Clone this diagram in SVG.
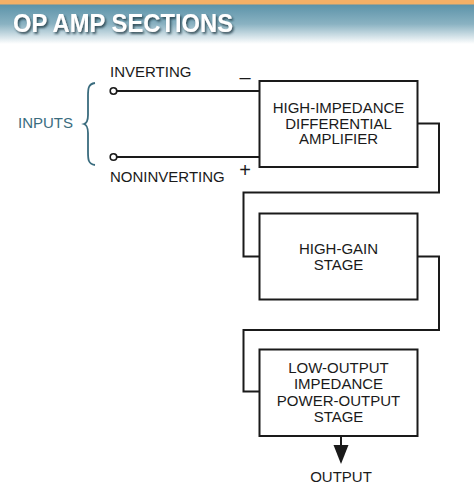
<svg xmlns="http://www.w3.org/2000/svg" width="474" height="486" viewBox="0 0 474 486">
<defs>
<linearGradient id="hdr" x1="0" y1="0" x2="0" y2="1">
<stop offset="0" stop-color="#5a92a8"/>
<stop offset="0.5" stop-color="#8ab2c2"/>
<stop offset="1" stop-color="#ffffff"/>
</linearGradient>
<filter id="sh" x="-10%" y="-30%" width="120%" height="160%">
<feDropShadow dx="1.5" dy="2" stdDeviation="1.2" flood-color="#1d3440" flood-opacity="0.8"/>
</filter>
</defs>
<style>
.lbl{font-family:"Liberation Sans",Arial,sans-serif;font-size:15px;fill:#1a1a1a}
.ctr{text-anchor:middle}
.box{fill:#fff;stroke:#1a1a1a;stroke-width:2}
.wire{fill:none;stroke:#1a1a1a;stroke-width:2}
.sign{font-family:"Liberation Sans",Arial,sans-serif;font-size:20px;fill:#1a1a1a;text-anchor:middle}
</style>
<rect x="0" y="0" width="474" height="486" fill="#fff"/>
<g id="header">
<rect x="0" y="4" width="474" height="40" fill="url(#hdr)"/>
<rect x="0" y="0" width="474" height="4.5" fill="#f3b067"/>
<text x="13" y="32" font-family="'Liberation Sans',Arial,sans-serif" font-weight="bold" font-size="26" fill="#fff" textLength="220" lengthAdjust="spacingAndGlyphs" filter="url(#sh)">OP AMP SECTIONS</text>
</g>
<g id="inputs">
<text class="lbl" x="18" y="128" style="fill:#3a6c7e">INPUTS</text>
<path d="M95,83 C88,84 88,89 88,96 L88,115 C88,120 87,123 84,124 C87,125 88,128 88,133 L88,152 C88,159 88,164 95,165" fill="none" stroke="#3a6c7e" stroke-width="1.8"/>
<text class="lbl" x="110" y="77">INVERTING</text>
<text class="lbl" x="110" y="182">NONINVERTING</text>
<circle cx="113.5" cy="91" r="3.3" fill="#fff" stroke="#1a1a1a" stroke-width="1.6"/>
<circle cx="113.5" cy="157" r="3.3" fill="#fff" stroke="#1a1a1a" stroke-width="1.6"/>
<text class="sign" x="245" y="84">–</text>
<text class="sign" x="245" y="177">+</text>
</g>
<g id="connectors">
<path class="wire" d="M117,91 H260"/>
<path class="wire" d="M117,157 H260"/>
<path class="wire" d="M418,123.5 H439 V192.5 H243.5 V256.5 H260"/>
<path class="wire" d="M418,256.5 H439 V330 H243.5 V391.5 H260"/>
<path class="wire" d="M341,436 V446"/>
<polygon points="333.5,445 348.5,445 341,464" fill="#1a1a1a"/>
</g>
<g id="diff-amp">
<rect class="box" x="259.5" y="81" width="158" height="86"/>
<text class="lbl ctr" x="338.5" y="113">HIGH-IMPEDANCE</text>
<text class="lbl ctr" x="338.5" y="128.5">DIFFERENTIAL</text>
<text class="lbl ctr" x="338.5" y="144">AMPLIFIER</text>
</g>
<g id="gain-stage">
<rect class="box" x="259.5" y="213.5" width="158" height="86"/>
<text class="lbl ctr" x="338.5" y="253.5">HIGH-GAIN</text>
<text class="lbl ctr" x="338.5" y="269.5">STAGE</text>
</g>
<g id="output-stage">
<rect class="box" x="259.5" y="349.5" width="158" height="86.5"/>
<text class="lbl ctr" x="338.5" y="373">LOW-OUTPUT</text>
<text class="lbl ctr" x="338.5" y="389.3">IMPEDANCE</text>
<text class="lbl ctr" x="338.5" y="405.6">POWER-OUTPUT</text>
<text class="lbl ctr" x="338.5" y="422">STAGE</text>
</g>
<g id="output">
<text class="lbl ctr" x="341" y="482">OUTPUT</text>
</g>
</svg>
